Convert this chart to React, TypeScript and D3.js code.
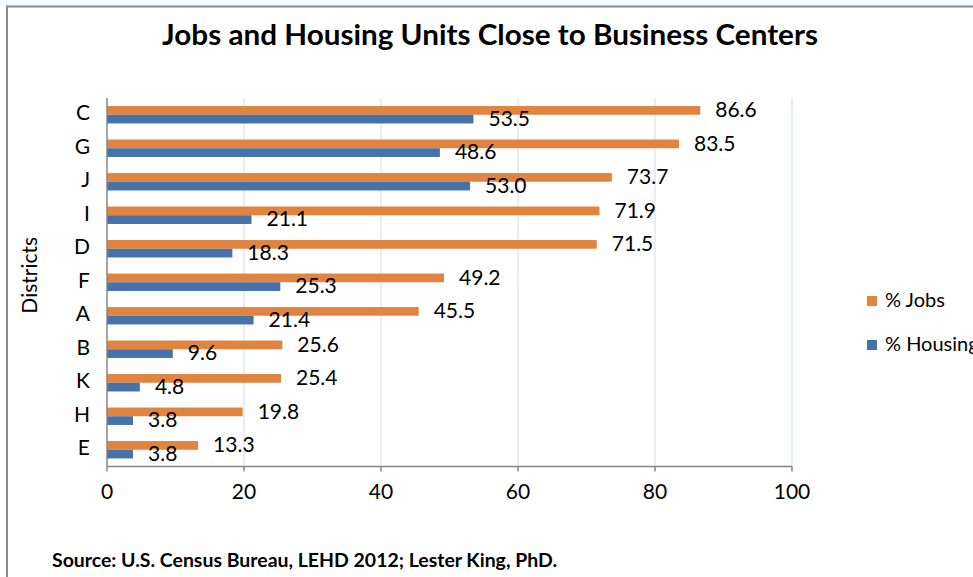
import React from "react";
import * as d3 from "d3";

const categories = ["C", "G", "J", "I", "D", "F", "A", "B", "K", "H", "E"];
const jobs = [86.6, 83.5, 73.7, 71.9, 71.5, 49.2, 45.5, 25.6, 25.4, 19.8, 13.3];
const housing = [53.5, 48.6, 53.0, 21.1, 18.3, 25.3, 21.4, 9.6, 4.8, 3.8, 3.8];
const xTicks = [0, 20, 40, 60, 80, 100];
const seriesNames = ["% Jobs", "% Housing"];
const colors = ["#E0843F", "#4672AA"];

const W = 973;
const H = 577;
const FONT = "Lato, 'Open Sans', sans-serif";

export default function App() {
  const x = d3.scaleLinear().domain([0, 100]).range([107, 792]);
  const y = d3
    .scaleBand<string>()
    .domain(categories)
    .range([98, 466.5])
    .paddingInner(0.48)
    .paddingOuter(0.24);
  const sub = d3
    .scaleBand<string>()
    .domain(seriesNames)
    .range([0, y.bandwidth()]);
  const plotTop = 98;
  const plotBottom = 466.5;
  const series = [jobs, housing];

  return (
    <svg
      width={W}
      height={H}
      style={{ position: "fixed", left: 0, top: 0, background: "#fff" }}
      fontFamily={FONT}
    >
      <rect x={0} y={0} width={W} height={6} fill="#f2fbfd" />
      <rect x={0} y={6} width={W} height={H} fill="#fff" />
      <path d={`M7,${H} V6.5 H${W}`} fill="none" stroke="#8a8a8a" strokeWidth={2} />

      <text
        x={490}
        y={38}
        textAnchor="middle"
        dominantBaseline="middle"
        fontSize={28}
        fontWeight="bold"
        fill="#000"
        textLength={656}
        lengthAdjust="spacingAndGlyphs"
      >
        Jobs and Housing Units Close to Business Centers
      </text>

      {/* gridlines */}
      {xTicks.slice(1).map((t) => (
        <line
          key={"g" + t}
          x1={x(t)}
          x2={x(t)}
          y1={plotTop}
          y2={plotBottom}
          stroke="#dbe3ee"
          strokeWidth={1.2}
        />
      ))}

      {/* bars */}
      {categories.map((c, i) =>
        series.map((s, si) => {
          const by = (y(c) as number) + (sub(seriesNames[si]) as number);
          const bh = sub.bandwidth();
          return (
            <g key={c + si}>
              <rect
                x={x(0)}
                y={by}
                width={x(s[i]) - x(0)}
                height={bh}
                fill={colors[si]}
              />
              <text
                x={x(s[i]) + 15}
                y={by + bh / 2 + 1.5}
                dominantBaseline="middle"
                fontSize={21}
                fill="#000"
              >
                {s[i].toFixed(1)}
              </text>
            </g>
          );
        })
      )}

      {/* axes */}
      <line x1={x(0)} x2={x(0)} y1={plotTop} y2={plotBottom} stroke="#868686" strokeWidth={1.5} />
      <line x1={x(0)} x2={x(100)} y1={plotBottom} y2={plotBottom} stroke="#868686" strokeWidth={1.5} />
      {xTicks.map((t) => (
        <g key={"t" + t}>
          <line x1={x(t)} x2={x(t)} y1={plotBottom} y2={plotBottom + 5} stroke="#868686" strokeWidth={1.5} />
          <text
            x={x(t)}
            y={494}
            textAnchor="middle"
            dominantBaseline="middle"
            fontSize={21}
            fill="#000"
          >
            {t}
          </text>
        </g>
      ))}
      {categories.map((c) => (
        <text
          key={"c" + c}
          x={90}
          y={(y(c) as number) + y.bandwidth() / 2}
          textAnchor="end"
          dominantBaseline="middle"
          fontSize={21}
          fill="#000"
        >
          {c}
        </text>
      ))}
      <text
        transform={`translate(32,${(plotTop + plotBottom) / 2 - 7}) rotate(-90)`}
        textAnchor="middle"
        dominantBaseline="middle"
        fontSize={21}
        fill="#000"
      >
        Districts
      </text>

      {/* legend */}
      {seriesNames.map((n, i) => (
        <g key={"l" + n} transform={`translate(867,${301 + i * 44})`}>
          <rect x={0} y={-5} width={10} height={10} fill={colors[i]} />
          <text x={18} y={1} dominantBaseline="middle" fontSize={20} fill="#000">
            {n}
          </text>
        </g>
      ))}

      <text
        x={52}
        y={562}
        dominantBaseline="middle"
        fontSize={19}
        fontWeight="bold"
        fill="#000"
        textLength={505}
        lengthAdjust="spacingAndGlyphs"
      >
        Source: U.S. Census Bureau, LEHD 2012; Lester King, PhD.
      </text>
    </svg>
  );
}
